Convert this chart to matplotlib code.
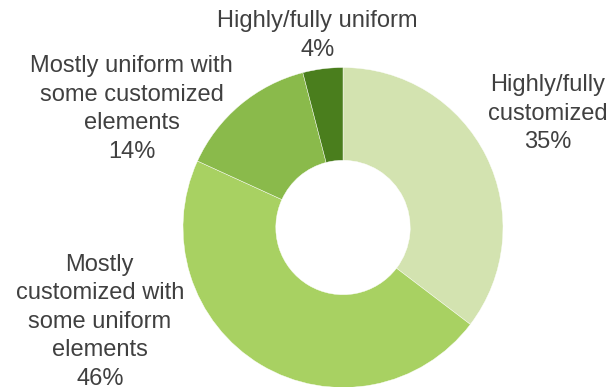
import matplotlib.pyplot as plt

plt.rcParams['font.family'] = ['Liberation Sans', 'DejaVu Sans']

# Datos del gráfico
categorias = ['Highly/fully\ncustomized',
              'Mostly\ncustomized with\nsome uniform\nelements',
              'Mostly uniform with\nsome customized\nelements',
              'Highly/fully uniform']
porcentajes = [35, 46, 14, 4]
colores = ['#d3e3b0', '#a8d162', '#8aba4b', '#4a7e1d']

# Posición de cada etiqueta (coordenadas del eje, radio = 1)
pos_etiquetas = [(1.28, 0.71), (-1.52, -0.59), (-1.32, 0.74), (-0.16, 1.20)]

fig = plt.figure(figsize=(6.15, 3.87), dpi=100)
ax = fig.add_axes([183 / 615, -0.5 / 387, 320 / 615, 320 / 387])

ax.pie(porcentajes, colors=colores, startangle=90, counterclock=False,
       radius=1, wedgeprops=dict(width=0.58, edgecolor='white', linewidth=0.3))

for cat, val, (x, y) in zip(categorias, porcentajes, pos_etiquetas):
    ax.text(x, y, f'{cat}\n{val}%', ha='center', va='center', fontsize=17,
            color='#404040', linespacing=1.38, clip_on=False)

ax.set_xlim(-1, 1)
ax.set_ylim(-1, 1)
ax.set_aspect('auto')
ax.axis('off')

plt.savefig('out.png', dpi=100)
